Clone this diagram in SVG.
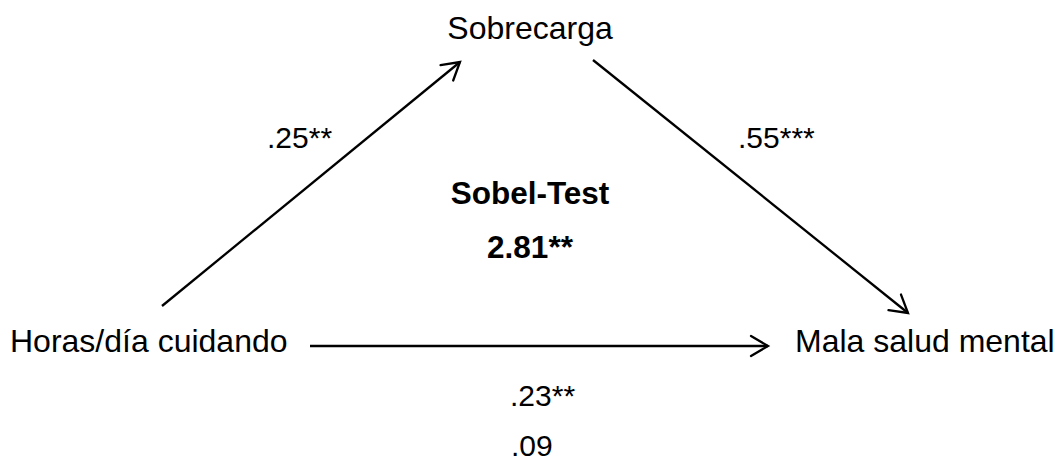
<svg xmlns="http://www.w3.org/2000/svg" width="1059" height="461" viewBox="0 0 1059 461">
<style>
.lbl{font-family:"Liberation Sans",Arial,sans-serif;font-size:32px;fill:#000}
.num{font-family:"Liberation Sans",Arial,sans-serif;font-size:30px;fill:#000}
.bold{font-family:"Liberation Sans",Arial,sans-serif;font-size:31.5px;font-weight:bold;fill:#000}
.conn{stroke:#000;stroke-width:2.3;fill:none;marker-end:url(#arr)}
</style>
<defs>
<marker id="arr" markerUnits="userSpaceOnUse" viewBox="-20 -13 24 26" markerWidth="24" markerHeight="26" refX="0" refY="0" orient="auto">
<path d="M -17 -10 L 0 0 L -17 10" fill="none" stroke="#000" stroke-width="2.3" stroke-linecap="round" stroke-linejoin="miter"/>
</marker>
</defs>
<rect width="1059" height="461" fill="#fff"/>
<g id="connectors">
<line class="conn" x1="162" y1="306" x2="460" y2="62"/>
<line class="conn" x1="593" y1="60" x2="908" y2="313"/>
<line class="conn" x1="310" y1="346" x2="768" y2="346"/>
</g>
<g id="node-sobrecarga"><text class="lbl" x="530" y="39" text-anchor="middle">Sobrecarga</text></g>
<g id="node-horas"><text class="lbl" x="10" y="352">Horas/día cuidando</text></g>
<g id="node-mala"><text class="lbl" x="795" y="352">Mala salud mental</text></g>
<g id="labels">
<text class="num" x="267" y="148">.25**</text>
<text class="num" x="738" y="148">.55***</text>
<text class="bold" x="530" y="204" text-anchor="middle">Sobel-Test</text>
<text class="bold" x="530" y="258" text-anchor="middle">2.81**</text>
<text class="num" x="510" y="406">.23**</text>
<text class="num" x="511" y="456">.09</text>
</g>
</svg>
